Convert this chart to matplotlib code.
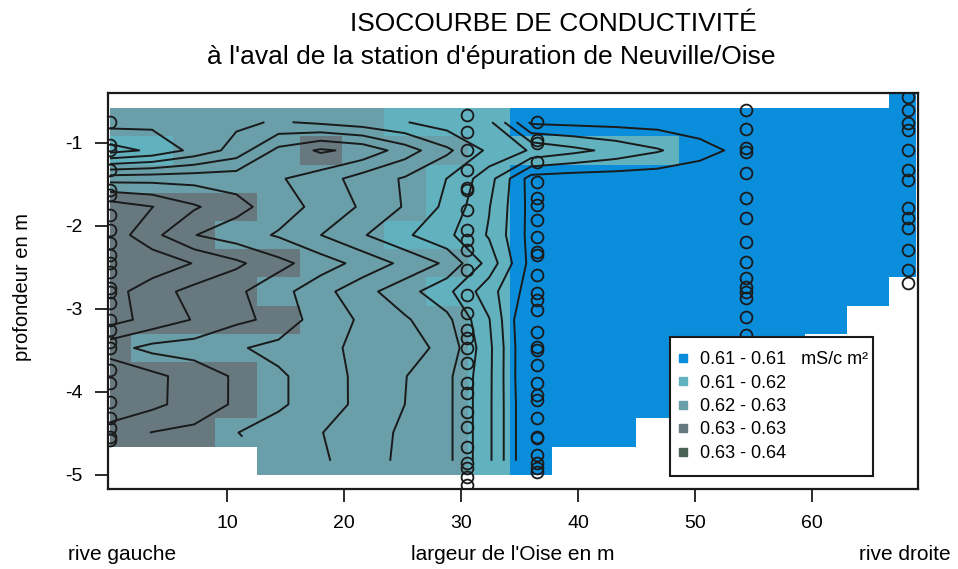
import numpy as np
import matplotlib
matplotlib.use("Agg")
import matplotlib.pyplot as plt
from matplotlib.colors import ListedColormap, BoundaryNorm
from matplotlib.lines import Line2D
from matplotlib.patches import Rectangle

plt.rcParams['font.family'] = ['Liberation Sans', 'DejaVu Sans']
plt.rcParams['axes.unicode_minus'] = False

# ---------------- data ----------------
# grid nodes: distance from left bank (m) and depth (m)
x_nodes = [0.0, 3.6, 7.2, 10.8, 14.4, 18.0, 21.6, 25.2, 28.8, 32.4,
           36.0, 39.6, 43.2, 46.8, 50.4, 54.0, 57.6, 61.2, 64.8, 68.4]
depth_nodes = [-0.41, -0.75, -1.09, -1.43, -1.77, -2.11, -2.45, -2.79,
               -3.13, -3.47, -3.81, -4.15, -4.49, -4.83]
river_width = 68.9

N = np.nan
B0, B1 = 0.6108, 0.6100
# conductivity grid (mS/cm), rows = depth_nodes, cols = x_nodes
cond_rows = [
    [N] * 19 + [0.6110],
    [0.6208, 0.6206, 0.6210, 0.6216, 0.6222, 0.6216, 0.6209, 0.6201, 0.6190, 0.6185,
     0.6116, 0.6114, 0.6113, 0.6112, 0.6110, 0.6110, 0.6110, 0.6110, 0.6110, 0.6110],
    [0.6172, 0.61835, 0.6206, 0.6228, 0.62655, 0.6283, 0.62745, 0.6250, 0.6224, 0.6196,
     0.6178, 0.6166, 0.6154, 0.6142, 0.6127, 0.6115, 0.6112, 0.6111, 0.6110, 0.6110],
    [0.6272, 0.6273, 0.6273, 0.6272, 0.6262, 0.6250, 0.6231, 0.6218, 0.61997, 0.6168,
     0.6111] + [B0] * 9,
    [0.6332, 0.63205, 0.63025, 0.62864, 0.6270, 0.62537, 0.62373, 0.62184, 0.61953, 0.6161,
     0.6113] + [B0] * 9,
    [0.63325, 0.6306, 0.62806, 0.62695, 0.62579, 0.62402, 0.62217, 0.62035, 0.61845, 0.6158,
     0.6113] + [B0] * 9,
    [0.6342, 0.63337, 0.6319, 0.63042, 0.6286, 0.62698, 0.62532, 0.62349, 0.62164, 0.61723,
     0.6113] + [B0] * 9,
    [0.6329, 0.6308, 0.62938, 0.62838, 0.62673, 0.62471, 0.62267, 0.62083, 0.61853, 0.6148,
     0.6110] + [B0] * 8 + [N],
    [0.6328, 0.63133, 0.62986, 0.62839, 0.62755, 0.62483, 0.62378, 0.62225, 0.62055, 0.6161,
     0.6092] + [B1] * 7 + [N] * 2,
    [0.6288, 0.6274, 0.6271, 0.62624, 0.62536, 0.62447, 0.62357, 0.62271, 0.6215, 0.6165,
     0.6093] + [B1] * 6 + [N] * 3,
    [0.63193, 0.63053, 0.62913, 0.62773, 0.62633, 0.62493, 0.62349, 0.62207, 0.62055, 0.61644,
     0.6093] + [B1] * 5 + [N] * 4,
    [0.6319, 0.6305, 0.6291, 0.62773, 0.62633, 0.62493, 0.6235, 0.6220, 0.62055, 0.6164,
     0.6095] + [B1] * 4 + [N] * 5,
    [0.6289, 0.62795, 0.62755, 0.62605, 0.62506, 0.62407, 0.62289, 0.62166, 0.62055, 0.6164,
     0.6095, 0.6100, 0.6102] + [N] * 7,
    [N, N, N, N, 0.6257, 0.62433, 0.6229, 0.62152, 0.62055, 0.6164,
     0.6095] + [N] * 9,
]

class_edges = [0.6065, 0.6135, 0.6205, 0.6275, 0.6345, 0.6415]
class_colors = ['#0a8edb', '#62b1be', '#6a9ea8', '#67797f', '#4a6156']
class_labels = ['0.61 - 0.61   mS/c m\u00b2', '0.61 - 0.62', '0.62 - 0.63',
                '0.63 - 0.63', '0.63 - 0.64']
iso_levels = [0.612, 0.614, 0.616, 0.618, 0.620, 0.622, 0.624,
              0.626, 0.628, 0.630, 0.632]

# measurement points (distance m, depth m)
st_x = [0.0, 30.5, 36.5, 54.4, 68.2]
st_depths = [
    [-0.75, -1.02, -1.08, -1.33, -1.57, -1.63, -1.87, -2.05, -2.20, -2.35, -2.45,
     -2.55, -2.75, -2.80, -2.93, -3.13, -3.25, -3.40, -3.47, -3.73, -3.89, -4.12,
     -4.31, -4.43, -4.54, -4.58],
    [-0.66, -0.87, -1.08, -1.33, -1.54, -1.57, -1.81, -2.05, -2.17, -2.29, -2.53,
     -2.83, -3.05, -3.25, -3.35, -3.47, -3.65, -3.89, -4.01, -4.24, -4.42, -4.66,
     -4.86, -4.92, -5.02, -5.12],
    [-0.75, -0.96, -1.00, -1.23, -1.47, -1.66, -1.75, -1.93, -2.13, -2.31, -2.35,
     -2.59, -2.81, -2.89, -3.01, -3.28, -3.46, -3.49, -3.67, -3.89, -4.04, -4.10,
     -4.31, -4.54, -4.55, -4.76, -4.86, -4.92, -4.96],
    [-0.60, -0.83, -1.06, -1.11, -1.36, -1.66, -1.90, -2.19, -2.43, -2.63, -2.73,
     -2.80, -2.87, -3.10, -3.31, -3.60, -3.90],
    [-0.45, -0.60, -0.76, -0.84, -1.08, -1.33, -1.45, -1.78, -1.90, -2.02, -2.29,
     -2.53, -2.69],
]

# ---------------- figure ----------------
fig = plt.figure(figsize=(9.58, 5.69), dpi=100)
ax = fig.add_axes([108 / 958, 1 - 489 / 569, 810 / 958, 396 / 569])

xn = np.array(x_nodes)
yn = np.array(depth_nodes)
Z = np.ma.masked_invalid(np.array(cond_rows))

xe = np.concatenate([[0.0], (xn[:-1] + xn[1:]) / 2, [river_width]])
ye = np.concatenate([[yn[0] + 0.17], (yn[:-1] + yn[1:]) / 2, [yn[-1] - 0.17]])

cmap = ListedColormap(class_colors)
norm = BoundaryNorm(class_edges, cmap.N)
ax.pcolormesh(xe, ye, Z, cmap=cmap, norm=norm, shading='flat',
              edgecolors='none', antialiased=False, zorder=1)
ax.contour(xn, yn, Z, levels=iso_levels, colors='#1a1a1a', linewidths=1.4,
           zorder=2)

for sx, ds in zip(st_x, st_depths):
    ax.plot([sx] * len(ds), ds, ls='none', marker='o', ms=8.5, mfc='none',
            mec='#1a1a1a', mew=1.3, zorder=3)

ax.set_xlim(-0.17, 69.06)
ax.set_ylim(-5.17, -0.398)
ax.set_xticks([10, 20, 30, 40, 50, 60])
ax.set_yticks([-1, -2, -3, -4, -5])
ax.tick_params(axis='both', direction='out', length=9.5, width=1.3,
               labelsize=14, color='#1a1a1a')
ax.tick_params(axis='x', pad=9)
ax.tick_params(axis='y', pad=9)
for sp in ax.spines.values():
    sp.set_linewidth(1.6)
    sp.set_color('#1a1a1a')
    sp.set_zorder(6)

ax.set_xlabel("largeur de l'Oise en m", fontsize=15, va='center')
ax.xaxis.set_label_coords(0.5, (489 - 554) / 396)
ax.set_ylabel("profondeur en m", fontsize=14.5, va='center', ha='center')
ax.yaxis.set_label_coords((23 - 108) / 810, (489 - 287) / 396)
ax.text((122 - 108) / 810, (489 - 554) / 396, "rive gauche", fontsize=15,
        ha='center', va='center', transform=ax.transAxes)
ax.text((905 - 108) / 810, (489 - 554) / 396, "rive droite", fontsize=15,
        ha='center', va='center', transform=ax.transAxes)

fig.text(553 / 958, 1 - 24 / 569, "ISOCOURBE DE CONDUCTIVIT\u00c9", fontsize=19,
         ha='center', va='center')
fig.text(491 / 958, 1 - 57 / 569,
         "\u00e0 l'aval de la station d'\u00e9puration de Neuville/Oise",
         fontsize=19, ha='center', va='center')

# legend box (frame drawn as a patch for exact padding)
box = Rectangle(((670 - 108) / 810, (489 - 476) / 396), (873 - 670) / 810,
                (476 - 337) / 396, transform=ax.transAxes, facecolor='white',
                edgecolor='#1a1a1a', linewidth=1.5, zorder=4.5)
ax.add_patch(box)
handles = [Line2D([], [], ls='none', marker='s', ms=6, mfc=c, mec=c)
           for c in class_colors]
leg = ax.legend(handles, class_labels, loc='upper left',
                bbox_to_anchor=((677 - 108) / 810, (489 - 351) / 396),
                bbox_transform=ax.transAxes, fontsize=13, frameon=False,
                handlelength=0.7, handletextpad=0.6, labelspacing=0.36,
                borderpad=0, borderaxespad=0)
leg.set_zorder(5)

fig.savefig("out.png", dpi=100)
